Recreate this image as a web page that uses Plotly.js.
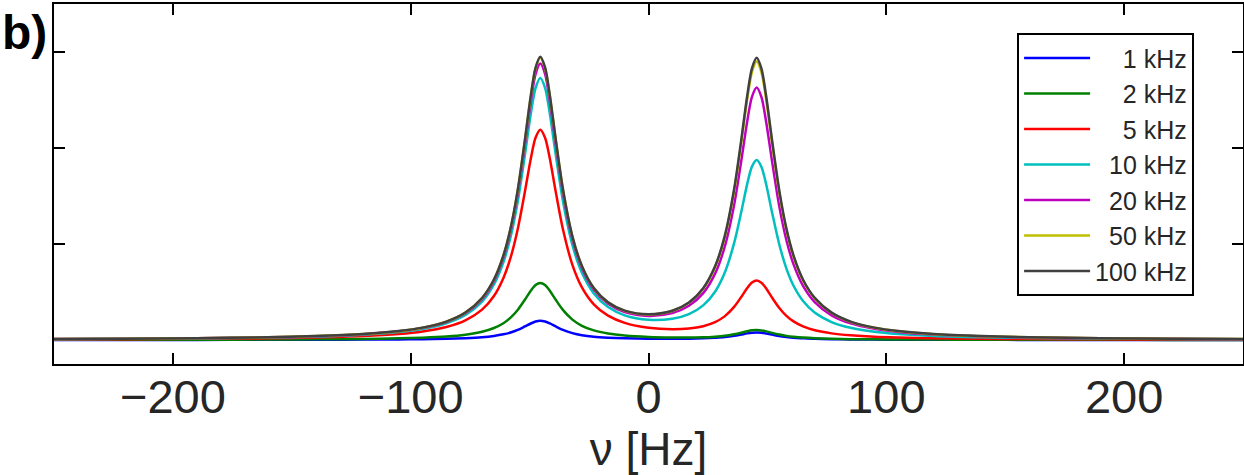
<!DOCTYPE html>
<html>
<head>
<meta charset="utf-8">
<script src="https://cdn.plot.ly/plotly-3.0.1.min.js"></script>
<style>
  html, body { margin: 0; padding: 0; background: #fff; }
  #chart { width: 1244px; height: 475px; }
</style>
</head>
<body>
<div id="chart"></div>
<script>
// frequency axis (Hz)
const nu = [-250,-220,-190,-160,-140,-120,-105,-95,-85,-77,-70,-65,-61,-58,-55,-52,-49.5,-47.5,-45.5,-43.5,-41.5,-39,-36,-32,-28,-23,-17,-10,
  0,
  10,17,23,28,32,36,39,41.5,43.5,45.5,47.5,49.5,52,55,58,61,65,70,77,85,95,105,120,140,160,190,220,250];

// series labels and colours
const seriesNames = ['1 kHz','2 kHz','5 kHz','10 kHz','20 kHz','50 kHz','100 kHz'];
const seriesColors = ['#0000ff','#008000','#ff0000','#00bfbf','#bf00bf','#bfbf00','#404040'];

// spectra (arbitrary units)
const s1k = [0.000,0.001,0.001,0.002,0.002,0.004,0.006,0.008,0.012,0.019,0.029,0.042,0.059,0.078,0.105,0.141,0.172,0.192,0.200,0.192,0.173,0.141,0.106,0.072,0.050,0.034,0.024,0.017,
  0.013,
  0.012,0.013,0.017,0.023,0.030,0.043,0.057,0.069,0.076,0.079,0.076,0.068,0.056,0.042,0.032,0.024,0.018,0.012,0.008,0.006,0.004,0.003,0.002,0.002,0.001,0.001,0.001,0.000];
const s2k = [0.002,0.002,0.003,0.005,0.007,0.011,0.017,0.024,0.036,0.055,0.086,0.125,0.175,0.233,0.313,0.419,0.513,0.572,0.595,0.572,0.513,0.419,0.314,0.212,0.148,0.100,0.068,0.047,
  0.032,
  0.026,0.026,0.028,0.035,0.044,0.060,0.076,0.091,0.101,0.104,0.100,0.090,0.074,0.057,0.043,0.034,0.025,0.018,0.013,0.009,0.007,0.005,0.004,0.003,0.002,0.002,0.001,0.001];
const s5k = [0.006,0.008,0.012,0.018,0.026,0.041,0.063,0.089,0.135,0.204,0.316,0.459,0.647,0.857,1.153,1.541,1.889,2.106,2.190,2.106,1.890,1.543,1.156,0.783,0.548,0.372,0.254,0.179,
  0.128,
  0.112,0.120,0.144,0.186,0.246,0.345,0.448,0.541,0.598,0.620,0.596,0.536,0.440,0.334,0.252,0.194,0.141,0.101,0.069,0.049,0.034,0.026,0.018,0.013,0.010,0.007,0.005,0.004];
const s10k = [0.009,0.012,0.016,0.025,0.035,0.055,0.083,0.115,0.174,0.260,0.400,0.579,0.812,1.074,1.441,1.923,2.355,2.625,2.730,2.627,2.359,1.929,1.451,0.990,0.700,0.485,0.343,0.257,
  0.210,
  0.221,0.270,0.361,0.503,0.697,1.009,1.333,1.624,1.806,1.875,1.803,1.619,1.324,0.995,0.744,0.565,0.406,0.283,0.187,0.127,0.086,0.063,0.042,0.028,0.021,0.014,0.010,0.007];
const s20k = [0.010,0.013,0.018,0.028,0.039,0.060,0.090,0.125,0.187,0.278,0.426,0.614,0.860,1.136,1.523,2.030,2.485,2.769,2.880,2.772,2.490,2.039,1.536,1.052,0.749,0.524,0.377,0.291,
  0.251,
  0.280,0.356,0.488,0.691,0.967,1.407,1.864,2.275,2.532,2.630,2.529,2.269,1.855,1.392,1.039,0.788,0.564,0.392,0.257,0.173,0.116,0.084,0.056,0.037,0.027,0.018,0.013,0.009];
const s50k = [0.010,0.014,0.019,0.029,0.041,0.062,0.092,0.128,0.191,0.285,0.436,0.628,0.879,1.160,1.555,2.072,2.536,2.826,2.939,2.829,2.542,2.082,1.569,1.076,0.767,0.539,0.390,0.304,
  0.266,
  0.302,0.387,0.533,0.758,1.063,1.549,2.054,2.508,2.791,2.900,2.788,2.502,2.044,1.534,1.145,0.867,0.620,0.431,0.282,0.189,0.127,0.092,0.061,0.040,0.029,0.019,0.014,0.010];
const s100k = [0.010,0.014,0.019,0.029,0.041,0.062,0.093,0.129,0.192,0.286,0.438,0.630,0.882,1.164,1.561,2.079,2.545,2.836,2.950,2.839,2.551,2.089,1.575,1.080,0.771,0.541,0.392,0.306,
  0.268,
  0.305,0.391,0.540,0.768,1.077,1.570,2.082,2.542,2.830,2.940,2.826,2.537,2.073,1.556,1.160,0.879,0.628,0.436,0.285,0.192,0.129,0.093,0.062,0.041,0.029,0.019,0.014,0.010];

// axis ticks
const xTickVals = [-200,-100,0,100,200];
const xTickText = ['\u2212200','\u2212100','0','100','200'];
const yTickVals = [1,2,3];

const allSeries = [s1k,s2k,s5k,s10k,s20k,s50k,s100k];
const FONT = 'Liberation Sans, Arial, Helvetica, sans-serif';

// pad short labels with no-break spaces so the legend text lines up on the right
function padLabel(t) {
  const digits = t.split(' ')[0].length;
  return '\u00a0'.repeat(2 * (3 - digits)) + t;
}

const traces = allSeries.map((ys, i) => ({
  type: 'scatter',
  mode: 'lines',
  x: nu,
  y: ys,
  name: padLabel(seriesNames[i]),
  line: { color: seriesColors[i], width: 2.5, shape: 'spline', smoothing: 0.8 }
}));

const layout = {
  width: 1244,
  height: 475,
  margin: { l: 54, r: 1, t: 4, b: 111 },
  paper_bgcolor: '#ffffff',
  plot_bgcolor: '#ffffff',
  font: { family: FONT, color: '#262626' },
  showlegend: true,
  legend: {
    x: 0.81, y: 0.919, xanchor: 'left', yanchor: 'top',
    bgcolor: '#ffffff', bordercolor: '#000000', borderwidth: 2,
    font: { family: FONT, size: 25, color: '#262626' },
    tracegroupgap: 0,
    itemwidth: 66
  },
  xaxis: {
    range: [-250, 250],
    tickmode: 'array', tickvals: xTickVals, ticktext: xTickText,
    ticks: 'inside', ticklen: 11, tickwidth: 2, tickcolor: '#000000',
    showline: true, linecolor: '#000000', linewidth: 2, mirror: 'ticks',
    showgrid: false, zeroline: false,
    tickfont: { family: FONT, size: 47, color: '#262626' },
    ticklabelstandoff: -9,
    title: { text: '\u03bd [Hz]', font: { family: FONT, size: 46, color: '#262626' }, standoff: 2 },
    automargin: false
  },
  yaxis: {
    range: [-0.25, 3.5],
    tickmode: 'array', tickvals: yTickVals,
    showticklabels: false,
    ticks: 'inside', ticklen: 11, tickwidth: 2, tickcolor: '#000000',
    showline: true, linecolor: '#000000', linewidth: 2, mirror: 'ticks',
    showgrid: false, zeroline: false,
    automargin: false
  },
  annotations: [{
    xref: 'paper', yref: 'paper',
    x: -0.0454, y: 1.0, xanchor: 'left', yanchor: 'top',
    text: '<b>b)</b>', showarrow: false,
    font: { family: FONT, size: 48, color: '#000000' }
  }]
};

Plotly.newPlot('chart', traces, layout, { displayModeBar: false, staticPlot: true });
</script>
</body>
</html>
